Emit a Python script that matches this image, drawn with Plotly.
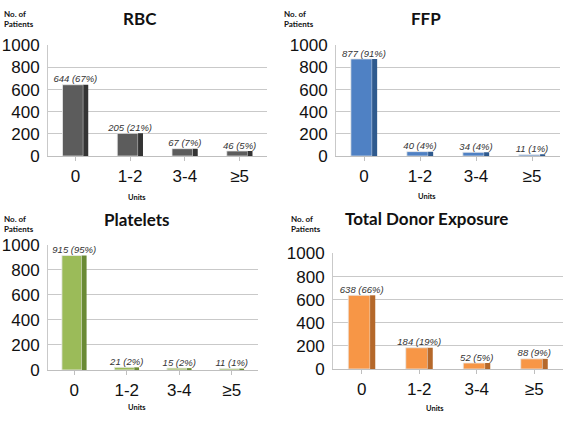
import plotly.graph_objects as go

W, H = 567, 422

categories = ["0", "1-2", "3-4", "≥5"]
rbc = [644, 205, 67, 46]
rbc_pct = [67, 21, 7, 5]
ffp = [877, 40, 34, 11]
ffp_pct = [91, 4, 4, 1]
plt_vals = [915, 21, 15, 11]
plt_pct = [95, 2, 2, 1]
tde = [638, 184, 52, 88]
tde_pct = [66, 19, 5, 9]
y_ticks = [0, 200, 400, 600, 800, 1000]

titles = ["RBC", "FFP", "Platelets", "Total Donor Exposure"]
series = [rbc, ffp, plt_vals, tde]
pcts = [rbc_pct, ffp_pct, plt_pct, tde_pct]
front_cols = ["#5c5c5c", "#4f81c4", "#9bbb59", "#f79646"]
side_cols = ["#343434", "#2f5a8e", "#6a8a35", "#b5682a"]

# pixel layout of each panel: (x0, x1, ytop(1000), ybottom(0))
panels = [(48, 267, 38, 154), (336, 560, 38, 154), (48, 258, 247, 378), (333, 563, 256, 377)]
title_pos = [(140, 10), (426, 10), (137, 220), (426, 219)]
nop_pos = [(2, 10), (282, 10), (2, 225), (289, 225)]
units_pos = [(137, 197), (427, 196), (137, 417), (435, 418)]

def px(x):
    return x / W

def py(y):
    return 1 - y / H

fig = go.Figure()
layout = dict(
    width=W, height=H, margin=dict(l=0, r=0, t=0, b=0),
    paper_bgcolor="white", plot_bgcolor="white", showlegend=False,
    barmode="overlay", annotations=[],
)

for i in range(4):
    n = "" if i == 0 else str(i + 1)
    xa, ya = "x" + n, "y" + n
    vals = series[i]
    fig.add_trace(go.Bar(x=categories, y=vals, xaxis=xa, yaxis=ya, width=0.38, offset=-0.235,
                         marker=dict(color=front_cols[i], line=dict(color="#e8e8e8", width=0.8)),
                         hoverinfo="skip"))
    fig.add_trace(go.Bar(x=categories, y=vals, xaxis=xa, yaxis=ya, width=0.09, offset=0.145,
                         marker=dict(color=side_cols[i], line=dict(width=0)), hoverinfo="skip"))
    labels = [f"{v} ({p}%)" for v, p in zip(vals, pcts[i])]
    fig.add_trace(go.Scatter(x=categories, y=vals, xaxis=xa, yaxis=ya, mode="text", text=labels,
                             textposition="top center", cliponaxis=False,
                             textfont=dict(family="Liberation Sans", size=9.5, color="#333333", style="italic"),
                             hoverinfo="skip"))
    x0, x1, yt, yb = panels[i]
    layout["xaxis" + n] = dict(domain=[px(x0), px(x1)], anchor=ya, type="category",
                               showgrid=False, showline=True, linecolor="#bfbfbf", linewidth=1,
                               ticks="outside", ticklen=4, tickcolor="#bfbfbf",
                               tickfont=dict(family="Liberation Sans", size=17, color="#111111"),
                               ticklabelstandoff=1, range=[-0.5, 3.5], fixedrange=True)
    layout["yaxis" + n] = dict(domain=[py(yb), py(yt)], anchor=xa, range=[0, 1000],
                               tickvals=y_ticks, showgrid=True, gridcolor="#c9c9c9", gridwidth=1,
                               zeroline=False, showline=True, linecolor="#c9c9c9",
                               tickfont=dict(family="Liberation Sans", size=17, color="#111111"),
                               ticks="", ticklabelstandoff=4, fixedrange=True)
    tx, ty = title_pos[i]
    layout["annotations"].append(dict(text=f"<b>{titles[i]}</b>", x=px(tx), y=py(ty), xref="paper", yref="paper",
                                      showarrow=False, xanchor="center", yanchor="middle",
                                      font=dict(family="Lato", size=17, color="#111111")))
    nx, ny = nop_pos[i]
    layout["annotations"].append(dict(text="<b>No. of<br>Patients</b>", x=px(nx), y=py(ny), xref="paper", yref="paper",
                                      showarrow=False, xanchor="left", yanchor="middle", align="left",
                                      font=dict(family="Lato", size=8, color="#111111")))
    ux, uy = units_pos[i]
    layout["annotations"].append(dict(text="<b>Units</b>", x=px(ux), y=py(uy), xref="paper", yref="paper",
                                      showarrow=False, xanchor="center", yanchor="middle",
                                      font=dict(family="Lato", size=7.5, color="#111111")))

fig.update_layout(**layout)
fig.write_html("out.html", config={"displayModeBar": False},
               post_script="document.body.style.margin='0';document.body.style.overflow='hidden';")
